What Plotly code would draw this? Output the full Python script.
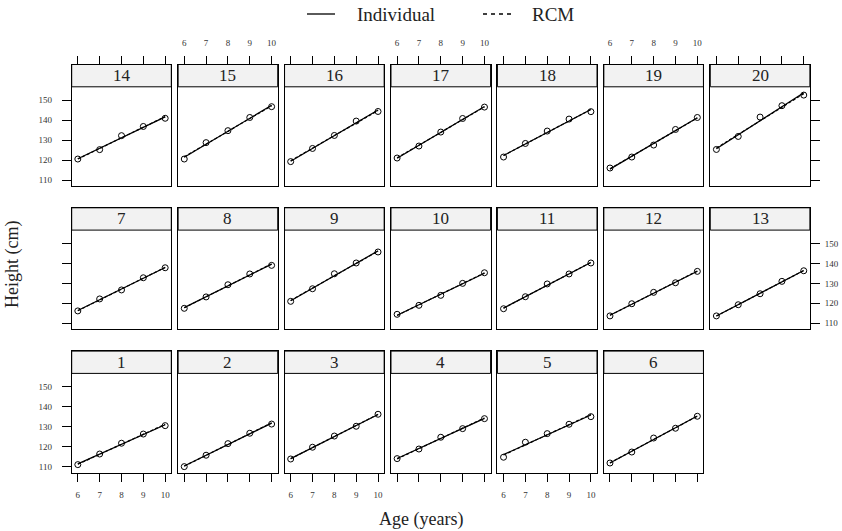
import numpy as np
import plotly.graph_objects as go

# ---- data: height (cm) of 20 children measured at ages 6-10 ----
ages = [6, 7, 8, 9, 10]
children = list(range(1, 21))
heights = [
    [111.0, 116.3, 121.7, 126.3, 130.5],  # 1
    [110.0, 115.7, 121.5, 126.7, 131.3],  # 2
    [113.8, 119.7, 125.3, 130.2, 136.2],  # 3
    [114.0, 118.8, 124.7, 129.0, 134.0],  # 4
    [114.7, 122.2, 126.5, 131.2, 135.0],  # 5
    [111.8, 117.3, 124.3, 129.2, 135.2],  # 6
    [116.2, 122.2, 126.7, 132.8, 137.8],  # 7
    [117.5, 123.2, 129.3, 134.7, 139.0],  # 8
    [121.0, 127.3, 134.8, 140.2, 145.7],  # 9
    [114.5, 119.0, 124.0, 130.0, 135.3],  # 10
    [117.3, 123.3, 129.7, 134.7, 140.2],  # 11
    [113.7, 119.8, 125.5, 130.3, 136.0],  # 12
    [113.7, 119.3, 124.8, 131.0, 136.3],  # 13
    [120.5, 125.2, 132.2, 136.8, 140.9],  # 14
    [120.5, 128.7, 134.7, 141.3, 146.7],  # 15
    [119.2, 125.8, 132.3, 139.5, 144.3],  # 16
    [121.0, 127.0, 134.0, 140.8, 146.5],  # 17
    [121.5, 128.3, 134.5, 140.5, 144.2],  # 18
    [116.0, 121.5, 127.5, 135.3, 141.3],  # 19
    [125.3, 131.8, 141.5, 147.2, 152.5],  # 20
]
x_ticks = [6, 7, 8, 9, 10]
y_ticks = [110, 120, 130, 140, 150]
legend_labels = ["Individual", "RCM"]

# ---- fits: individual OLS lines and random-coefficient (shrunken) lines ----
age = np.array(ages, float)
ac = age - age.mean()
H = np.array(heights, float)
coefs = np.array([np.polyfit(ac, h, 1) for h in H])        # slope, intercept
slopes, inters = coefs[:, 0], coefs[:, 1]
resid = H - (inters[:, None] + slopes[:, None] * ac[None, :])
s2 = (resid ** 2).sum() / (H.size - 2 * len(H))
var_int_samp = s2 / len(age)
var_slope_samp = s2 / (ac ** 2).sum()
tau_int = max(inters.var(ddof=1) - var_int_samp, 1e-9)
tau_slope = max(slopes.var(ddof=1) - var_slope_samp, 1e-9)
k_int = tau_int / (tau_int + var_int_samp)
k_slope = tau_slope / (tau_slope + var_slope_samp)
rcm_inters = inters.mean() + k_int * (inters - inters.mean())
rcm_slopes = slopes.mean() + k_slope * (slopes - slopes.mean())

# ---- lattice-style panel geometry (pixels) ----
W, HGT = 842, 531
COL_LEFT0, COL_PITCH, PANEL_W = 71.7, 106.43, 99.6
STRIP_TOP0, ROW_PITCH, STRIP_H, PANEL_BOT0 = 64.5, 143.3, 22.3, 186.0
XLIM = (5.72, 10.28)
YLIM = (107.0, 156.65)
FONT = "Liberation Serif"
TXT = "#222"

fig = go.Figure()
layout_axes = {}
shapes, annotations = [], []


def panel_pos(child):
    if child <= 6:
        return 2, child - 1
    if child <= 13:
        return 1, child - 7
    return 0, child - 14


for idx, child in enumerate(children):
    n = idx + 1
    sx = "" if n == 1 else str(n)
    row, col = panel_pos(child)
    left = COL_LEFT0 + COL_PITCH * col
    strip_top = STRIP_TOP0 + ROW_PITCH * row
    bottom = PANEL_BOT0 + ROW_PITCH * row
    panel_top = strip_top + STRIP_H
    ppu = (bottom - panel_top) / (YLIM[1] - YLIM[0])
    y_strip_top = YLIM[1] + STRIP_H / ppu

    xa = dict(
        domain=[left / W, (left + PANEL_W) / W], range=list(XLIM),
        anchor="y" + sx, showline=True, mirror=True, linecolor="black",
        linewidth=1, showgrid=False, zeroline=False, tickvals=x_ticks,
        ticks="", showticklabels=False, tickcolor="black", ticklen=8,
        tickfont=dict(family=FONT, size=9, color="#333"), ticklabelstandoff=6,
        fixedrange=True,
    )
    if row == 0:
        xa.update(side="top", ticks="outside", showticklabels=(col % 2 == 1))
    elif row == 2:
        xa.update(side="bottom", ticks="outside", showticklabels=(col % 2 == 0))

    ya = dict(
        domain=[1 - bottom / HGT, 1 - strip_top / HGT],
        range=[YLIM[0], y_strip_top], anchor="x" + sx, showline=True,
        mirror=True, linecolor="black", linewidth=1, showgrid=False,
        zeroline=False, tickvals=y_ticks, ticks="", showticklabels=False,
        tickcolor="black", ticklen=9,
        tickfont=dict(family=FONT, size=9, color="#333"), fixedrange=True,
    )
    if col == 0:
        ya.update(side="left", ticks="outside", showticklabels=(row != 1),
                  ticklabelstandoff=8)
    elif col == 6:
        ya.update(side="right", ticks="outside", showticklabels=(row == 1),
                  ticklabelstandoff=3)

    layout_axes["xaxis" + sx] = xa
    layout_axes["yaxis" + sx] = ya

    # strip with the child id
    shapes.append(dict(type="rect", xref=f"x{sx} domain", x0=0, x1=1,
                       yref="y" + sx, y0=YLIM[1], y1=y_strip_top,
                       fillcolor="#f2f2f2", line=dict(color="black", width=1),
                       layer="below"))
    annotations.append(dict(text=str(child), xref=f"x{sx} domain", x=0.5,
                            yref="y" + sx, y=(YLIM[1] + y_strip_top) / 2,
                            showarrow=False, yanchor="middle",
                            font=dict(family=FONT, size=17, color=TXT)))

    i = idx
    x_line = [ages[0], ages[-1]]
    fit_ind = [inters[i] + slopes[i] * (a - age.mean()) for a in x_line]
    fit_rcm = [rcm_inters[i] + rcm_slopes[i] * (a - age.mean()) for a in x_line]

    fig.add_trace(go.Scatter(
        x=x_line, y=fit_ind, mode="lines", xaxis="x" + sx, yaxis="y" + sx,
        line=dict(color="black", width=1.2), name=legend_labels[0],
        showlegend=False, hoverinfo="skip"))
    fig.add_trace(go.Scatter(
        x=x_line, y=fit_rcm, mode="lines", xaxis="x" + sx, yaxis="y" + sx,
        line=dict(color="black", width=1.2, dash="3px,2px"),
        name=legend_labels[1], showlegend=False, hoverinfo="skip"))
    fig.add_trace(go.Scatter(
        x=ages, y=heights[i], mode="markers", xaxis="x" + sx, yaxis="y" + sx,
        marker=dict(symbol="circle-open", size=6, color="black",
                    line=dict(width=1)),
        showlegend=False))

# key above the panels (line samples + labels)
key_y = 1 - 14 / HGT
shapes.append(dict(type="line", xref="paper", yref="paper",
                   x0=307 / W, x1=335 / W, y0=key_y, y1=key_y,
                   line=dict(color="black", width=1.3)))
shapes.append(dict(type="line", xref="paper", yref="paper",
                   x0=483 / W, x1=512 / W, y0=key_y, y1=key_y,
                   line=dict(color="black", width=1.3, dash="4px,4px")))
annotations.append(dict(text=legend_labels[0], xref="paper", yref="paper",
                        x=355 / W, y=key_y, xanchor="left", yanchor="middle",
                        showarrow=False,
                        font=dict(family=FONT, size=19, color=TXT)))
annotations.append(dict(text=legend_labels[1], xref="paper", yref="paper",
                        x=530 / W, y=key_y, xanchor="left", yanchor="middle",
                        showarrow=False,
                        font=dict(family=FONT, size=19, color=TXT)))

annotations.append(dict(text="Height (cm)", xref="paper", yref="paper",
                        x=12 / W, y=1 - 265 / HGT, textangle=-90,
                        showarrow=False, xanchor="center", yanchor="middle",
                        font=dict(family=FONT, size=18, color=TXT)))
annotations.append(dict(text="Age (years)", xref="paper", yref="paper",
                        x=421 / W, y=1 - 519 / HGT, showarrow=False,
                        xanchor="center", yanchor="middle",
                        font=dict(family=FONT, size=18, color=TXT)))

fig.update_layout(
    width=W, height=HGT, margin=dict(l=0, r=0, t=0, b=0),
    paper_bgcolor="white", plot_bgcolor="white", showlegend=False,
    shapes=shapes, annotations=annotations,
    **layout_axes,
)

fig.write_html("out.html")
